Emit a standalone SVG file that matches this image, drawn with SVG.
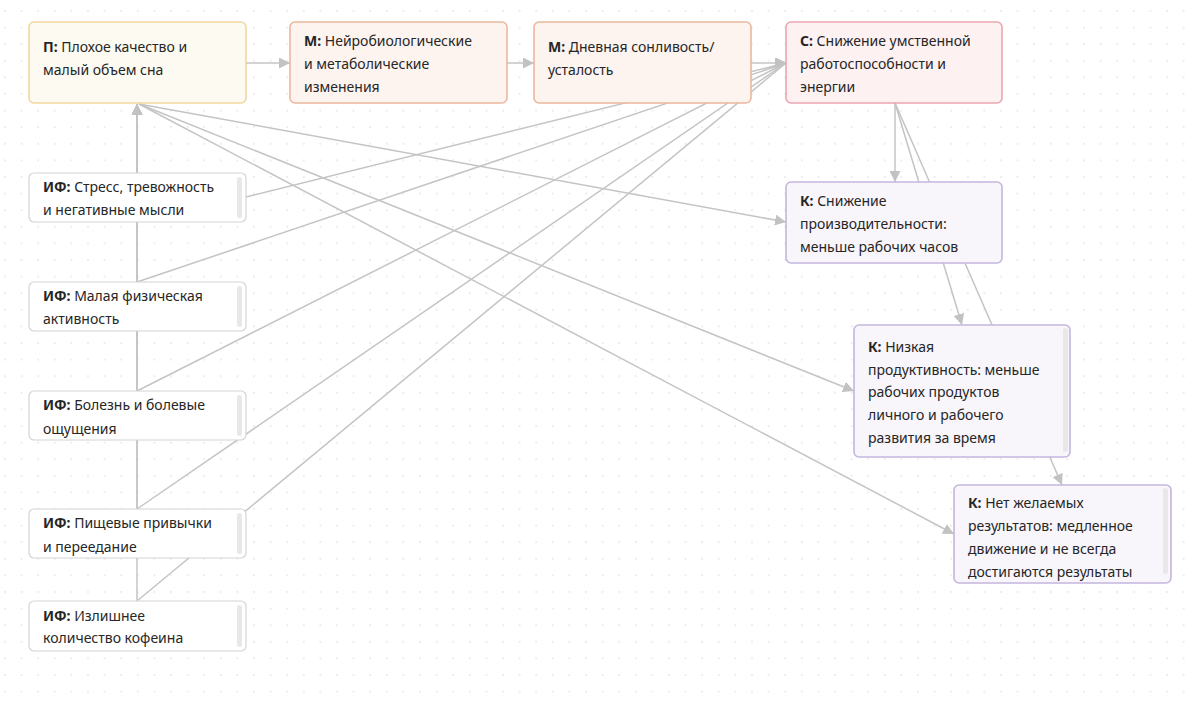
<svg xmlns="http://www.w3.org/2000/svg" width="1195" height="704" viewBox="0 0 1195 704">
<defs>
<pattern id="dots" x="4" y="10" width="16.6" height="16.6" patternUnits="userSpaceOnUse">
<circle cx="1" cy="1" r="0.75" fill="#d2d2d2"/>
</pattern>
<marker id="arr" viewBox="0 0 10 10" refX="10" refY="5" markerWidth="11" markerHeight="11" markerUnits="userSpaceOnUse" orient="auto">
<path d="M0,0 L10,5 L0,10 z" fill="#c2c2c2"/>
</marker>
<marker id="arrR" viewBox="0 0 10 10" refX="10" refY="5" markerWidth="11" markerHeight="11" markerUnits="userSpaceOnUse" orient="0">
<path d="M0,0 L10,5 L0,10 z" fill="#c2c2c2"/>
</marker>
<marker id="arrU" viewBox="0 0 10 10" refX="10" refY="5" markerWidth="11" markerHeight="11" markerUnits="userSpaceOnUse" orient="270">
<path d="M0,0 L10,5 L0,10 z" fill="#c2c2c2"/>
</marker>
</defs>
<style>
.t{font-family:"Noto Sans","Liberation Sans",sans-serif;font-size:14px;fill:#262626}
.b{font-weight:bold}
.c{fill:none;stroke:#c4c4c4;stroke-width:1.5}
.p{fill:#fdfaf1;stroke:#f1d79f;stroke-width:1.6}
.m{fill:#fdf4f0;stroke:#eab89c;stroke-width:1.6}
.s{fill:#fdf1f2;stroke:#eaa6b1;stroke-width:1.6}
.k{fill:#f8f5fb;stroke:#c4b6de;stroke-width:1.6}
.f{fill:#ffffff;stroke:#d4d4d4;stroke-width:1.2}
.sb{fill:#e8e8e8}
</style>
<rect width="1195" height="704" fill="#ffffff"/>
<rect width="1195" height="704" fill="url(#dots)"/>

<g id="connectors">
<path class="c" d="M246,63 L290,63" marker-end="url(#arr)"/>
<path class="c" d="M507,63 L534,63" marker-end="url(#arr)"/>
<path class="c" d="M751,63 L786,63" marker-end="url(#arrR)"/>
<path class="c" d="M246,197 L786,63" marker-end="url(#arrR)"/>
<path class="c" d="M137,282 L786,63" marker-end="url(#arrR)"/>
<path class="c" d="M137,391 L786,63" marker-end="url(#arrR)"/>
<path class="c" d="M137,509 L786,63" marker-end="url(#arrR)"/>
<path class="c" d="M137,601 L786,63" marker-end="url(#arrR)"/>
<path class="c" d="M137,173 L137,104" marker-end="url(#arrU)"/>
<path class="c" d="M137,282 L137,104" marker-end="url(#arrU)"/>
<path class="c" d="M137,391 L137,104" marker-end="url(#arrU)"/>
<path class="c" d="M137,509 L137,104" marker-end="url(#arrU)"/>
<path class="c" d="M137,601 L137,104" marker-end="url(#arrU)"/>
<path class="c" d="M139,104 L786,222" marker-end="url(#arr)"/>
<path class="c" d="M139,104 L854,391" marker-end="url(#arr)"/>
<path class="c" d="M139,104 L954,534" marker-end="url(#arr)"/>
<path class="c" d="M895,103 L895,182" marker-end="url(#arr)"/>
<path class="c" d="M895,103 L962,325" marker-end="url(#arr)"/>
<path class="c" d="M895,103 L1062,485" marker-end="url(#arr)"/>
</g>

<g id="node-p">
<rect class="p" x="29" y="22" width="217" height="81" rx="5"/>
<text class="t" x="43" y="52"><tspan class="b">П:</tspan> Плохое качество и</text>
<text class="t" x="43" y="75">малый объем сна</text>
</g>

<g id="node-m1">
<rect class="m" x="290" y="22" width="217" height="81" rx="5"/>
<text class="t" x="304" y="46"><tspan class="b">М:</tspan> Нейробиологические</text>
<text class="t" x="304" y="69">и метаболические</text>
<text class="t" x="304" y="92">изменения</text>
</g>

<g id="node-m2">
<rect class="m" x="534" y="22" width="217" height="81" rx="5"/>
<text class="t" x="548" y="52"><tspan class="b">М:</tspan> Дневная сонливость/</text>
<text class="t" x="548" y="75">усталость</text>
</g>

<g id="node-c">
<rect class="s" x="786" y="22" width="216" height="81" rx="5"/>
<text class="t" x="800" y="46"><tspan class="b">С:</tspan> Снижение умственной</text>
<text class="t" x="800" y="69">работоспособности и</text>
<text class="t" x="800" y="92">энергии</text>
</g>

<g id="node-k1">
<rect class="k" x="786" y="182" width="216" height="81" rx="5"/>
<text class="t" x="800" y="206"><tspan class="b">К:</tspan> Снижение</text>
<text class="t" x="800" y="229">производительности:</text>
<text class="t" x="800" y="252">меньше рабочих часов</text>
</g>

<g id="node-k2">
<rect class="k" x="854" y="325" width="216" height="132" rx="5"/>
<rect class="sb" x="1063" y="328" width="5" height="124" rx="2.5"/>
<text class="t" x="868" y="352"><tspan class="b">К:</tspan> Низкая</text>
<text class="t" x="868" y="375">продуктивность: меньше</text>
<text class="t" x="868" y="397">рабочих продуктов</text>
<text class="t" x="868" y="420">личного и рабочего</text>
<text class="t" x="868" y="443">развития за время</text>
</g>

<g id="node-k3">
<rect class="k" x="954" y="485" width="217" height="98" rx="5"/>
<rect class="sb" x="1163" y="488" width="5" height="86" rx="2.5"/>
<text class="t" x="968" y="508"><tspan class="b">К:</tspan> Нет желаемых</text>
<text class="t" x="968" y="531">результатов: медленное</text>
<text class="t" x="968" y="554">движение и не всегда</text>
<text class="t" x="968" y="577">достигаются результаты</text>
</g>

<g id="node-if1">
<rect class="f" x="29" y="173" width="217" height="49" rx="5"/>
<rect class="sb" x="237" y="177" width="5" height="41" rx="2.5"/>
<text class="t" x="43" y="192"><tspan class="b">ИФ:</tspan> Стресс, тревожность</text>
<text class="t" x="43" y="215">и негативные мысли</text>
</g>

<g id="node-if2">
<rect class="f" x="29" y="282" width="217" height="49" rx="5"/>
<rect class="sb" x="237" y="286" width="5" height="41" rx="2.5"/>
<text class="t" x="43" y="301"><tspan class="b">ИФ:</tspan> Малая физическая</text>
<text class="t" x="43" y="324">активность</text>
</g>

<g id="node-if3">
<rect class="f" x="29" y="391" width="217" height="49" rx="5"/>
<rect class="sb" x="237" y="395" width="5" height="41" rx="2.5"/>
<text class="t" x="43" y="410"><tspan class="b">ИФ:</tspan> Болезнь и болевые</text>
<text class="t" x="43" y="434">ощущения</text>
</g>

<g id="node-if4">
<rect class="f" x="29" y="509" width="217" height="49" rx="5"/>
<rect class="sb" x="237" y="513" width="5" height="41" rx="2.5"/>
<text class="t" x="43" y="528"><tspan class="b">ИФ:</tspan> Пищевые привычки</text>
<text class="t" x="43" y="552">и переедание</text>
</g>

<g id="node-if5">
<rect class="f" x="29" y="601" width="217" height="50" rx="5"/>
<rect class="sb" x="237" y="605" width="5" height="42" rx="2.5"/>
<text class="t" x="43" y="621"><tspan class="b">ИФ:</tspan> Излишнее</text>
<text class="t" x="43" y="643">количество кофеина</text>
</g>
</svg>
